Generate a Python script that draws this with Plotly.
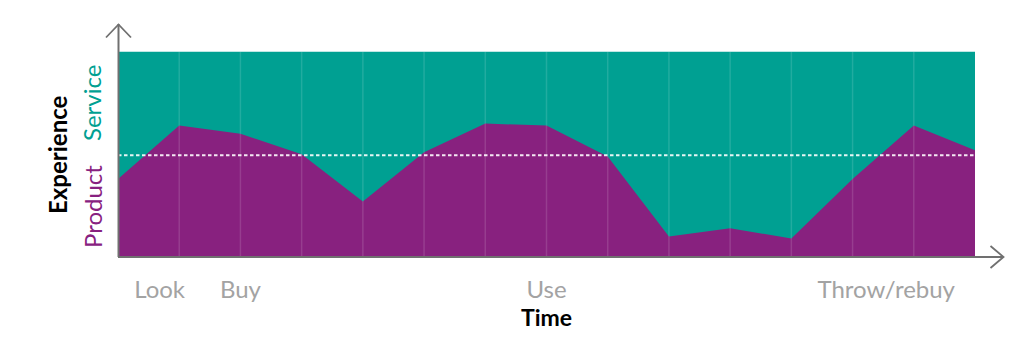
import plotly.graph_objects as go

# ---- data ----
steps = list(range(15))
product = [38, 64, 60, 50, 27, 51, 65, 64, 49, 10, 14, 9, 38, 64, 52]
service_top = [100] * 15
midline = 49.5
tick_pos = [0.68, 2, 7, 12.55]
tick_text = ["Look", "Buy", "Use", "Throw/rebuy"]

TEAL = "#00a092"
PURPLE = "#88217f"
AXIS = "#707070"
W, H = 1030, 352
L, R, T, B = 118, 55, 25, 95
pw, ph = W - L - R, H - T - B


def px(x):
    return (x - L) / pw


def py(y):
    return (H - B - y) / ph


fig = go.Figure()
fig.add_trace(go.Scatter(x=steps, y=service_top, mode="lines", line=dict(width=0),
                         fill="tozeroy", fillcolor=TEAL, hoverinfo="skip", showlegend=False))
fig.add_trace(go.Scatter(x=steps, y=product, mode="lines", line=dict(width=0, color=PURPLE),
                         fill="tozeroy", fillcolor=PURPLE, showlegend=False))

shapes = []
for s in steps[1:-1]:
    shapes.append(dict(type="line", xref="x", yref="y", x0=s, x1=s, y0=0, y1=100,
                       line=dict(color="rgba(255,255,255,0.13)", width=1.5), layer="above"))
shapes.append(dict(type="line", xref="x", yref="y", x0=steps[0], x1=steps[-1], y0=midline, y1=midline,
                   line=dict(color="rgba(255,255,255,0.9)", width=2, dash="3.5px,2.5px"), layer="above"))
# axes with open arrowheads
shapes.append(dict(type="path", xref="paper", yref="paper",
                   path=f"M {px(118.5)} {py(257)} L {px(118.5)} {py(24)}",
                   line=dict(color=AXIS, width=2), layer="above"))
shapes.append(dict(type="path", xref="paper", yref="paper",
                   path=f"M {px(106)} {py(37.5)} L {px(118.5)} {py(24.5)} L {px(131)} {py(37.5)}",
                   line=dict(color=AXIS, width=1.8), layer="above"))
shapes.append(dict(type="path", xref="paper", yref="paper",
                   path=f"M {px(118)} {py(257)} L {px(1003)} {py(257)}",
                   line=dict(color=AXIS, width=2), layer="above"))
shapes.append(dict(type="path", xref="paper", yref="paper",
                   path=f"M {px(990.5)} {py(246)} L {px(1003.5)} {py(257)} L {px(990.5)} {py(268)}",
                   line=dict(color=AXIS, width=1.8), layer="above"))

annotations = [
    dict(text="<b>Experience</b>", x=px(57), y=py(155), xref="paper", yref="paper",
         textangle=-90, showarrow=False, font=dict(family="Lato", size=24, color="black"),
         xanchor="center", yanchor="middle"),
    dict(text="Service", x=px(92), y=py(103), xref="paper", yref="paper",
         textangle=-90, showarrow=False, font=dict(family="Lato", size=24, color=TEAL),
         xanchor="center", yanchor="middle"),
    dict(text="Product", x=px(92), y=py(207), xref="paper", yref="paper",
         textangle=-90, showarrow=False, font=dict(family="Lato", size=24, color=PURPLE),
         xanchor="center", yanchor="middle"),
]

fig.update_layout(
    width=W, height=H, margin=dict(l=L, r=R, t=T, b=B),
    paper_bgcolor="white", plot_bgcolor="white",
    shapes=shapes, annotations=annotations,
    xaxis=dict(range=[steps[0], steps[-1]], showgrid=False, zeroline=False, showline=False,
               tickvals=tick_pos, ticktext=tick_text, ticks="", ticklabelstandoff=16,
               tickfont=dict(family="Lato", size=24, color="#a3a3a3"),
               title=dict(text="<b>Time</b>", standoff=6,
                          font=dict(family="Lato", size=23, color="black"))),
    yaxis=dict(range=[0, 113], showgrid=False, zeroline=False, showline=False,
               showticklabels=False, ticks=""),
)

fig.write_html("out.html")
